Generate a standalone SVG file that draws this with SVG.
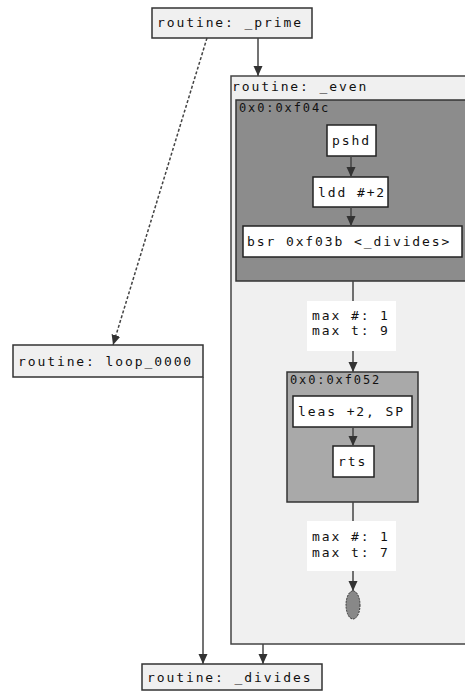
<svg xmlns="http://www.w3.org/2000/svg" width="465" height="693" viewBox="0 0 465 693">
  <style>
    text { font-family: "DejaVu Sans Mono", "Liberation Mono", monospace; font-size: 13px; letter-spacing: 1.9px; fill: #111; }
    .routine { fill: #f0f0f0; stroke: #333; stroke-width: 1.5; }
    .cluster { fill: #f0f0f0; stroke: #444; stroke-width: 1.5; }
    .blockA { fill: #8c8c8c; stroke: #333; stroke-width: 1.5; }
    .blockB { fill: #a9a9a9; stroke: #333; stroke-width: 1.5; }
    .insn { fill: #ffffff; stroke: #222; stroke-width: 1.5; }
    .stat { fill: #ffffff; stroke: none; }
    .edge { fill: none; stroke: #444; stroke-width: 1.5; }
    .dashed { stroke-dasharray: 3 2; }
  </style>
  <defs>
    <marker id="arrow" markerUnits="userSpaceOnUse" markerWidth="10" markerHeight="10" viewBox="0 0 10 10" refX="10" refY="5" orient="auto">
      <path d="M0,0.5 L10,5 L0,9.5 Z" fill="#333"/>
    </marker>
  </defs>

  <!-- cluster for _even -->
  <g id="even">
    <rect class="cluster" x="231" y="76" width="240" height="568"/>
    <text x="232" y="91">routine: _even</text>
  </g>

  <g id="block_f04c">
    <rect class="blockA" x="236" y="100" width="235" height="181"/>
    <text x="239" y="112" style="font-size:12px;letter-spacing:1.9px">0x0:0xf04c</text>
  </g>
  <g id="pshd">
    <rect class="insn" x="327" y="125" width="49" height="31"/>
    <text x="332" y="145">pshd</text>
  </g>
  <g id="ldd">
    <rect class="insn" x="313" y="177" width="75" height="30"/>
    <text x="318" y="197">ldd #+2</text>
  </g>
  <g id="bsr">
    <rect class="insn" x="243" y="226" width="219" height="31"/>
    <text x="247" y="246">bsr 0xf03b &lt;_divides&gt;</text>
  </g>

  <g id="stat1">
    <rect class="stat" x="307" y="301" width="89" height="50"/>
    <text x="312" y="320">max #: 1</text>
    <text x="312" y="335">max t: 9</text>
  </g>

  <g id="block_f052">
    <rect class="blockB" x="287" y="372" width="131" height="130"/>
    <text x="290" y="384" style="font-size:12px;letter-spacing:1.9px">0x0:0xf052</text>
  </g>
  <g id="leas">
    <rect class="insn" x="293" y="396" width="119" height="31"/>
    <text x="298" y="416">leas +2, SP</text>
  </g>
  <g id="rts">
    <rect class="insn" x="333" y="446" width="41" height="31"/>
    <text x="338" y="466">rts</text>
  </g>

  <g id="stat2">
    <rect class="stat" x="307" y="521" width="89" height="50"/>
    <text x="312" y="541">max #: 1</text>
    <text x="312" y="557">max t: 7</text>
  </g>

  <g id="exit">
    <ellipse cx="353" cy="605" rx="7" ry="14" fill="#888" stroke="#333" stroke-width="1" stroke-dasharray="2 1"/>
  </g>

  <g id="prime">
    <rect class="routine" x="152" y="8" width="160" height="30"/>
    <text x="157" y="27">routine: _prime</text>
  </g>

  <g id="loop_0000">
    <rect class="routine" x="13" y="345" width="190" height="32"/>
    <text x="18" y="366">routine: loop_0000</text>
  </g>

  <g id="divides">
    <rect class="routine" x="142" y="664" width="180" height="26"/>
    <text x="147" y="682">routine: _divides</text>
  </g>

  <g id="edges">
    <line class="edge" x1="258" y1="38" x2="258" y2="76" marker-end="url(#arrow)"/>
    <line class="edge dashed" x1="207" y1="38" x2="113" y2="345" marker-end="url(#arrow)"/>
    <line class="edge" x1="351" y1="156" x2="351" y2="177" marker-end="url(#arrow)"/>
    <line class="edge" x1="351" y1="207" x2="351" y2="226" marker-end="url(#arrow)"/>
    <line class="edge" x1="353" y1="281" x2="353" y2="301"/>
    <line class="edge" x1="353" y1="351" x2="353" y2="372" marker-end="url(#arrow)"/>
    <line class="edge" x1="353" y1="427" x2="353" y2="446" marker-end="url(#arrow)"/>
    <line class="edge" x1="353" y1="502" x2="353" y2="521"/>
    <line class="edge" x1="353" y1="571" x2="353" y2="591" marker-end="url(#arrow)"/>
    <line class="edge" x1="203" y1="377" x2="203" y2="664" marker-end="url(#arrow)"/>
    <line class="edge" x1="263" y1="644" x2="263" y2="664" marker-end="url(#arrow)"/>
  </g>
</svg>
